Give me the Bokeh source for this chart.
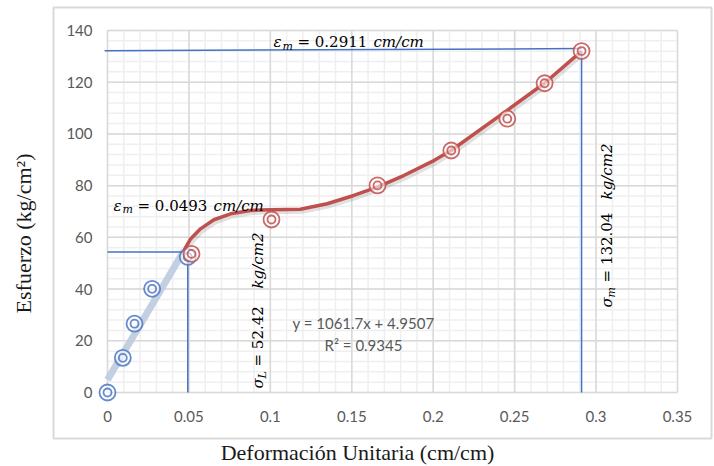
import numpy as np
from bokeh.plotting import figure
from bokeh.models import Label, BoxAnnotation, FixedTicker, Range1d
from bokeh.embed import file_html
from bokeh.resources import INLINE

# ---------------- data ----------------
x_ticks = [0, 0.05, 0.1, 0.15, 0.2, 0.25, 0.3, 0.35]
x_tick_labels = ["0", "0.05", "0.1", "0.15", "0.2", "0.25", "0.3", "0.35"]
y_ticks = [0, 20, 40, 60, 80, 100, 120, 140]
y_tick_labels = ["0", "20", "40", "60", "80", "100", "120", "140"]
x_minor_step = 0.01
y_minor_step = 4

# elastic zone (blue)
blue_x = [0, 0.0094, 0.0166, 0.0274, 0.0493]
blue_y = [0, 13.4, 26.6, 40.1, 52.42]
# plastic zone (red)
red_x = [0.0516, 0.1007, 0.1658, 0.2111, 0.2455, 0.2684, 0.2911]
red_y = [53.6, 66.9, 80.1, 93.6, 105.9, 119.6, 132.04]
# red smoothed curve
curve_x = [0.0469, 0.051, 0.0571, 0.0653, 0.0756, 0.0878, 0.1001, 0.1185,
           0.1349, 0.1512, 0.1656, 0.1819, 0.2004, 0.211, 0.2454, 0.2683, 0.2911]
curve_y = [54.9, 59.4, 63.3, 66.8, 69.1, 70.4, 70.7, 70.9,
           73.0, 76.2, 79.4, 83.9, 89.7, 93.6, 109.1, 119.6, 132.04]
# linear trendline of the elastic zone
trend_slope = 1061.7
trend_intercept = 4.9507
trend_x = [0, 0.047]
# reference lines
eps_L, sig_L = 0.0493, 52.42
eps_m, sig_m = 0.2911, 132.04
ref_h1_x, ref_h1_y = [0, 0.047], [54.3, 54.3]
ref_h2_x, ref_h2_y = [-0.0018, 0.2911], [132.2, 133.0]

# ---------------- figure ----------------
# the frame fills the whole canvas; axes are pinned at x=0 / y=0
p = figure(width=714, height=466, output_backend="svg", toolbar_location=None,
           x_range=Range1d(-0.065701, 0.372719), y_range=Range1d(-28.619, 151.602),
           min_border=0)
p.outline_line_color = None
p.xgrid.visible = False
p.ygrid.visible = False
p.background_fill_color = "white"
p.border_fill_color = "white"

# outer chart box
p.add_layout(BoxAnnotation(left=53, right=711, top=7, bottom=438,
                           left_units="canvas", right_units="canvas",
                           top_units="canvas", bottom_units="canvas",
                           fill_color=None, fill_alpha=0, line_color="#d9d9d9",
                           line_alpha=1.0, line_width=2, level="underlay"))

# grid lines (minor then major), limited to the plot area
x_min = np.round(np.arange(x_ticks[0], x_ticks[-1] + 1e-9, x_minor_step), 4)
y_min = np.arange(y_ticks[0], y_ticks[-1] + 1e-9, y_minor_step)
p.segment(x0=x_min, x1=x_min, y0=y_ticks[0], y1=y_ticks[-1], line_color="#efefef", line_width=1.5)
p.segment(x0=x_ticks[0], x1=x_ticks[-1], y0=y_min, y1=y_min, line_color="#efefef", line_width=1.5)
p.segment(x0=x_ticks, x1=x_ticks, y0=y_ticks[0], y1=y_ticks[-1], line_color="#d9d9d9", line_width=1.5)
p.segment(x0=x_ticks[0], x1=x_ticks[-1], y0=y_ticks, y1=y_ticks, line_color="#d9d9d9", line_width=1.5)

# axes
for ax, ticks, labels in ((p.xaxis[0], x_ticks, x_tick_labels), (p.yaxis[0], y_ticks, y_tick_labels)):
    ax.ticker = FixedTicker(ticks=ticks)
    ax.major_label_overrides = {t: l for t, l in zip(ticks, labels)}
    ax.fixed_location = 0
    ax.axis_line_color = None
    ax.major_tick_line_color = None
    ax.minor_tick_line_color = None
    ax.major_label_text_font = "Lato"
    ax.major_label_text_font_size = "15px"
    ax.major_label_text_color = "#595959"
    ax.axis_label_text_font = "Liberation Serif"
    ax.axis_label_text_font_size = "22px"
    ax.axis_label_text_font_style = "normal"
    ax.axis_label_text_color = "#1a1a1a"
p.xaxis.axis_label = "Deformación Unitaria (cm/cm)"
p.yaxis.axis_label = "Esfuerzo (kg/cm²)"
p.xaxis.major_label_standoff = 13
p.yaxis.major_label_standoff = 9
p.xaxis.axis_label_standoff = 14
p.yaxis.axis_label_standoff = 27

# trendline
trend_y = [trend_slope * x + trend_intercept for x in trend_x]
p.line(trend_x, trend_y, line_color="#bccbdf", line_width=7, line_alpha=0.9)

# red curve with soft shadow
p.line([x + 0.0012 for x in curve_x], [y - 1.0 for y in curve_y], line_color="#888888",
       line_alpha=0.25, line_width=4)
p.line(curve_x, curve_y, line_color="#c0504d", line_width=3.5)

# reference lines
blue = "#4472c4"
p.line(ref_h1_x, ref_h1_y, line_color=blue, line_width=1.5)
p.line([eps_L, eps_L], [0, sig_L], line_color=blue, line_width=1.5)
p.line(ref_h2_x, ref_h2_y, line_color=blue, line_width=1.5)
p.line([eps_m, eps_m], [0, sig_m], line_color=blue, line_width=1.5)

# markers (double rings)
for xs, ys, c in ((blue_x, blue_y, "#4a76c4"), (red_x, red_y, "#c0504d")):
    p.scatter(xs, ys, marker="circle", size=16, line_color=c, line_width=1.8,
              fill_color="white", fill_alpha=0.6, line_alpha=0.85)
    p.scatter(xs, ys, marker="circle", size=8, line_color=c, line_width=1.8,
              fill_color="white", fill_alpha=0.0, line_alpha=0.85)

# ---------------- annotations ----------------
def add_pieces(x, y, pieces, angle=0.0):
    for txt, dx, dy, size, style in pieces:
        if angle == 0:
            xo, yo = dx, dy
        else:
            xo, yo = -dy, dx
        p.add_layout(Label(x=x, y=y, x_offset=xo, y_offset=yo, text=txt, angle=angle,
                           text_font="DejaVu Serif", text_font_size=f"{size}px",
                           text_font_style=style, text_color="black",
                           text_baseline="alphabetic", text_align="left"))

add_pieces(0.1019, 135.4, [("ε", 0, 0, 15, "italic"), ("m", 9, -4, 11, "italic"),
                           ("= 0.2911", 24, 0, 15, "normal"), ("cm/cm", 100, 0, 15, "italic")])
add_pieces(0.0037, 72.3, [("ε", 0, 0, 15, "italic"), ("m", 9, -4, 11, "italic"),
                          ("= 0.0493", 24, 0, 15, "normal"), ("cm/cm", 100, 0, 15, "italic")])
add_pieces(0.0927, 1.55, [("σ", 0, 0, 15, "italic"), ("L", 10, -4, 11, "italic"),
                          ("= 52.42", 22, 0, 15, "normal"), ("kg/cm2", 100, 0, 15, "italic")],
           angle=np.pi / 2)
add_pieces(0.307, 32.9, [("σ", 0, 0, 15, "italic"), ("m", 10, -4, 11, "italic"),
                         ("= 132.04", 25, 0, 15, "normal"), ("kg/cm2", 108, 0, 15, "italic")],
           angle=np.pi / 2)

for txt, yy in (("y = 1061.7x + 4.9507", 26.7), ("R² = 0.9345", 18.2)):
    p.add_layout(Label(x=0.1572, y=yy, text=txt, text_font="Lato", text_font_size="15px",
                       text_color="#595959", text_align="center", text_baseline="middle"))

open("out.html", "w").write(file_html(p, INLINE))
